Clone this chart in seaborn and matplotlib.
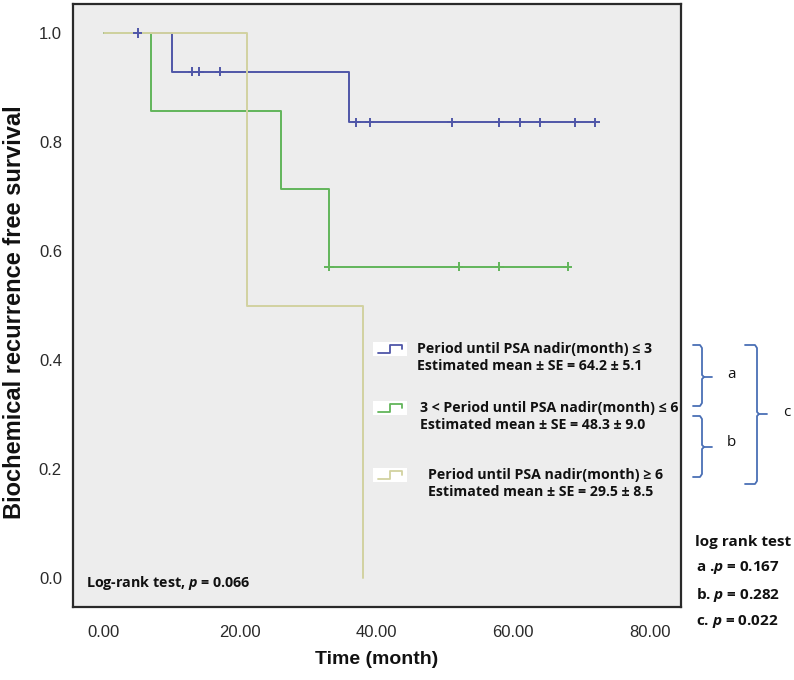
import numpy as np
import pandas as pd
import matplotlib
matplotlib.use("Agg")
import matplotlib.pyplot as plt
import seaborn as sns
from matplotlib.lines import Line2D
from matplotlib.patches import Rectangle

# ---------------- data ----------------
group_names = ["le3", "3to6", "ge6"]
blue_time = [0, 10, 36, 72]
blue_surv = [1.0, 0.929, 0.836, 0.836]
green_time = [0, 7, 26, 33, 68]
green_surv = [1.0, 0.857, 0.714, 0.571, 0.571]
khaki_time = [0, 21, 38]
khaki_surv = [1.0, 0.5, 0.0]
blue_censor = [5, 13, 14, 17, 37, 39, 51, 58, 61, 64, 69, 72]
green_censor = [33, 52, 58, 68]
khaki_censor = []

x_ticks = [0, 20, 40, 60, 80]
y_ticks = [0.0, 0.2, 0.4, 0.6, 0.8, 1.0]

legend_line1 = ["Period until PSA nadir(month) \u2264 3",
                "3 < Period until PSA nadir(month) \u2264 6",
                "Period until PSA nadir(month) \u2265 6"]
legend_line2 = ["Estimated mean \u00b1 SE = 64.2 \u00b1 5.1",
                "Estimated mean \u00b1 SE = 48.3 \u00b1 9.0",
                "Estimated mean \u00b1 SE = 29.5 \u00b1 8.5"]
overall_p = "0.066"
pair_labels = ["a .", "b. ", "c. "]
pair_p = ["0.167", "0.282", "0.022"]

palette = ["#4f56a8", "#62b55a", "#d2d2a0"]

# ---------------- tables ----------------
times = [blue_time, green_time, khaki_time]
survs = [blue_surv, green_surv, khaki_surv]
cens = [blue_censor, green_censor, khaki_censor]

curve_rows = []
cens_rows = []
for g, t, s, c in zip(group_names, times, survs, cens):
    for ti, si in zip(t, s):
        curve_rows.append((g, ti, si))
    t_arr = np.array(t)
    for ci in c:
        idx = np.searchsorted(t_arr, ci, side="right") - 1
        cens_rows.append((g, ci, s[idx]))
curves = pd.DataFrame(curve_rows, columns=["group", "time", "surv"])
cdf = pd.DataFrame(cens_rows, columns=["group", "time", "surv"])
pal = dict(zip(group_names, palette))

# ---------------- figure ----------------
sns.set_style("white")
plt.rcParams["font.family"] = ["Liberation Sans", "DejaVu Sans"]
plt.rcParams["mathtext.fontset"] = "custom"
plt.rcParams["mathtext.it"] = "Open Sans:italic:bold"
plt.rcParams["mathtext.rm"] = "Open Sans:bold"

W, H = 794, 680
fig = plt.figure(figsize=(W / 100, H / 100), dpi=100)
fig.patch.set_facecolor("white")

def fx(px):
    return px / W

def fy(py):
    return 1 - py / H

ax = fig.add_axes([fx(73), fy(607), (681 - 73) / W, (607 - 4) / H])
ax.set_facecolor("#ededed")

sns.lineplot(data=curves, x="time", y="surv", hue="group", palette=pal,
             drawstyle="steps-post", estimator=None, sort=False,
             linewidth=1.4, legend=False, ax=ax)
sns.scatterplot(data=cdf, x="time", y="surv", hue="group", palette=pal,
                marker="+", s=45, linewidth=1.4, legend=False, ax=ax, zorder=3)

ax.set_xlim(-4.5, 84.6)
ax.set_ylim(-0.053, 1.053)
ax.set_xticks(x_ticks)
ax.set_xticklabels([f"{v:.2f}" for v in x_ticks])
ax.set_yticks(y_ticks)
ax.set_yticklabels([f"{v:.1f}" for v in y_ticks])
ax.tick_params(axis="x", direction="out", length=8, width=1.5, color="#222222",
               labelsize=12, labelcolor="#2a2a2a", pad=5)
ax.tick_params(axis="y", direction="out", length=7, width=1.5, color="#222222",
               labelsize=12, labelcolor="#2a2a2a", pad=1)
for sp in ax.spines.values():
    sp.set_color("#2a2a2a")
    sp.set_linewidth(1.6)

ax.set_xlabel("Time (month)", fontsize=14, fontweight="bold", color="#111111")
ax.set_ylabel("Biochemical recurrence free survival", fontsize=17,
              fontweight="bold", color="#111111")
ax.xaxis.set_label_coords(0.5, (607 - 651) / 603)
ax.yaxis.set_label_coords((26 - 73) / 608, (607 - 312) / 603)

ann_font = dict(family=["Open Sans", "DejaVu Sans"], fontweight="bold", color="#111111")

# legend entries (icons + text)
icon_y = [349, 408, 475]
text_x = [417, 420, 428]
for col, yc, tx, l1, l2 in zip(palette, icon_y, text_x, legend_line1, legend_line2):
    fig.add_artist(Rectangle((fx(373), fy(yc + 7)), 34 / W, 14 / H,
                             transform=fig.transFigure, facecolor="white",
                             edgecolor="none"))
    fig.add_artist(Line2D([fx(378), fx(390), fx(390), fx(402), fx(402)],
                          [fy(yc + 4), fy(yc + 4), fy(yc - 4), fy(yc - 4), fy(yc)],
                          transform=fig.transFigure, color=col, lw=1.3))
    fig.text(fx(tx), fy(yc), l1, fontsize=10.2, va="center", ha="left", **ann_font)
    fig.text(fx(tx), fy(yc + 17), l2, fontsize=10.2, va="center", ha="left", **ann_font)

fig.text(fx(86), fy(583), f"Log-rank test, $p$ = {overall_p}", fontsize=10.3,
         va="center", ha="left", **ann_font)

# brackets
br_col = "#4a6fb5"

def bracket(L, R, T, B, M, X):
    fig.add_artist(Line2D([fx(L), fx(R - 2), fx(R), fx(R), fx(R + 2), fx(X)],
                          [fy(T), fy(T), fy(T + 3), fy(M - 2), fy(M), fy(M)],
                          transform=fig.transFigure, color=br_col, lw=1.3))
    fig.add_artist(Line2D([fx(R + 2), fx(R), fx(R), fx(R - 2), fx(L)],
                          [fy(M), fy(M + 2), fy(B - 3), fy(B), fy(B)],
                          transform=fig.transFigure, color=br_col, lw=1.3))

bracket(693, 702, 345, 406, 377, 712)
bracket(693, 702, 416, 477, 447, 712)
bracket(745, 757, 345, 484, 414, 767)
fig.text(fx(727), fy(375), "a", fontsize=11, va="center", ha="left",
         family=["Open Sans", "DejaVu Sans"], color="#111111")
fig.text(fx(727), fy(442), "b", fontsize=11, va="center", ha="left",
         family=["Open Sans", "DejaVu Sans"], color="#111111")
fig.text(fx(783), fy(413), "c", fontsize=11, va="center", ha="left",
         family=["Open Sans", "DejaVu Sans"], color="#111111")

fig.text(fx(695), fy(542), "log rank test", fontsize=11, va="center", ha="left", **ann_font)
for i, (lab, pv) in enumerate(zip(pair_labels, pair_p)):
    fig.text(fx(696), fy(568 + 26.5 * i), f"{lab}$p$ = {pv}", fontsize=11,
             va="center", ha="left", **ann_font)

fig.savefig("out.png", dpi=100)
